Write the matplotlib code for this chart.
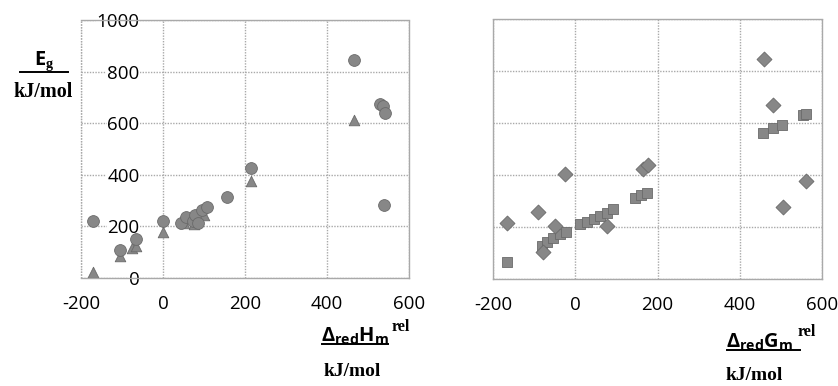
import matplotlib
matplotlib.use("Agg")
import matplotlib.pyplot as plt
from matplotlib.lines import Line2D

# left panel: E_g vs Delta_red H_m^rel
h_circle_x = [-170, -105, -65, 0, 45, 55, 72, 78, 85, 95, 107, 155, 215, 465, 530, 537, 542, 540]
h_circle_y = [220, 108, 150, 222, 215, 235, 222, 245, 215, 262, 275, 315, 425, 845, 675, 665, 640, 282]
h_tri_x = [-170, -105, -75, -65, 0, 50, 75, 100, 215, 465]
h_tri_y = [22, 85, 115, 125, 180, 215, 210, 245, 375, 612]

# right panel: E_g vs Delta_red G_m^rel
g_diam_x = [-165, -90, -25, -50, -78, 78, 165, 178, 460, 482, 560, 505]
g_diam_y = [215, 258, 405, 205, 104, 203, 425, 440, 845, 670, 378, 278]
g_sq_x = [-165, -82, -68, -54, -36, -22, 12, 29, 45, 61, 78, 93, 145, 160, 175, 457, 482, 503, 555, 562]
g_sq_y = [65, 128, 142, 158, 172, 180, 213, 220, 230, 242, 254, 268, 310, 322, 332, 560, 580, 592, 630, 635]

x_ticks = [-200, 0, 200, 400, 600]
y_ticks = [0, 200, 400, 600, 800, 1000]

W, H = 838, 386
FACE = "#878787"
EDGE = "#6a6a6a"
GRID = "#a9a9a9"

plt.rcParams["axes.unicode_minus"] = False
plt.rcParams["mathtext.fontset"] = "custom"
plt.rcParams["mathtext.sf"] = "Open Sans:bold"
plt.rcParams["mathtext.rm"] = "Liberation Serif:bold"
plt.rcParams["mathtext.it"] = "Liberation Serif:italic"
plt.rcParams["mathtext.bf"] = "Liberation Serif:bold"


def px(x, y):
    return x / W, 1 - y / H


def style(ax):
    ax.set_xlim(-200, 600)
    ax.set_ylim(0, 1000)
    ax.set_xticks(x_ticks)
    ax.set_yticks(y_ticks)
    ax.grid(True, color=GRID, linestyle=(0, (1, 1)), linewidth=1.0)
    ax.set_axisbelow(True)
    for s in ax.spines.values():
        s.set_color(GRID)
        s.set_linestyle((0, (1, 1)))
        s.set_linewidth(1.0)
    ax.tick_params(length=0, labelsize=13.5, pad=12)
    for lbl in ax.get_xticklabels():
        lbl.set_fontfamily("Open Sans")


fig = plt.figure(figsize=(W / 100, H / 100), dpi=100)
ax1 = fig.add_axes([81 / W, 1 - 278 / H, 328 / W, 258 / H])
ax2 = fig.add_axes([493 / W, 1 - 279 / H, 329 / W, 260 / H])

style(ax1)
style(ax2)

ax1.scatter(h_circle_x, h_circle_y, s=72, marker="o", c=FACE, edgecolors=EDGE, linewidths=0.6, zorder=3)
ax1.scatter(h_tri_x, h_tri_y, s=58, marker="^", c=FACE, edgecolors=EDGE, linewidths=0.6, zorder=2)

ax2.scatter(g_diam_x, g_diam_y, s=58, marker="D", c=FACE, edgecolors=EDGE, linewidths=0.6, zorder=3)
ax2.scatter(g_sq_x, g_sq_y, s=58, marker="s", c=FACE, edgecolors=EDGE, linewidths=0.6, zorder=2)

# y axis of the left panel crosses at x = 0
ax1.spines["left"].set_position(("data", 0))
ax1.spines["left"].set_visible(False)
ax1.plot([-200, -200], [0, 1000], color=GRID, linestyle=(0, (1, 1)), linewidth=1.0, zorder=1, clip_on=False)
ax1.tick_params(axis="y", pad=17)
for lbl in ax1.get_yticklabels():
    lbl.set_fontfamily("Open Sans")
    lbl.set_bbox(dict(facecolor="white", edgecolor="none", pad=0.5))
ax2.set_yticklabels([])

serif_bold = dict(fontfamily="Liberation Serif", fontweight="bold")

# axis titles
fig.text(*px(44, 61), r"$\mathsf{E}_{\mathrm{g}}$", ha="center", va="center", fontsize=14.5)
fig.add_artist(Line2D([20 / W, 68 / W], [1 - 72 / H, 1 - 72 / H], color="black", lw=1.4))
fig.text(*px(43, 92), "kJ/mol", ha="center", va="center", fontsize=14.5, **serif_bold)

fig.text(*px(321, 336), r"$\mathsf{\Delta}_{\mathsf{red}}\mathsf{H}_{\mathsf{m}}$",
         ha="left", va="center", fontsize=14.5)
fig.text(*px(392, 327), "rel", ha="left", va="center", fontsize=11.5, **serif_bold)
fig.add_artist(Line2D([322 / W, 388 / W], [1 - 344 / H, 1 - 344 / H], color="black", lw=1.4))
fig.text(*px(352, 372), "kJ/mol", ha="center", va="center", fontsize=14, **serif_bold)

fig.text(*px(726, 341), r"$\mathsf{\Delta}_{\mathsf{red}}\mathsf{G}_{\mathsf{m}}$",
         ha="left", va="center", fontsize=14.5)
fig.text(*px(798, 332), "rel", ha="left", va="center", fontsize=11.5, **serif_bold)
fig.add_artist(Line2D([727 / W, 800 / W], [1 - 350 / H, 1 - 350 / H], color="black", lw=1.4))
fig.text(*px(754, 375), "kJ/mol", ha="center", va="center", fontsize=14, **serif_bold)

fig.savefig("out.png", dpi=100)
